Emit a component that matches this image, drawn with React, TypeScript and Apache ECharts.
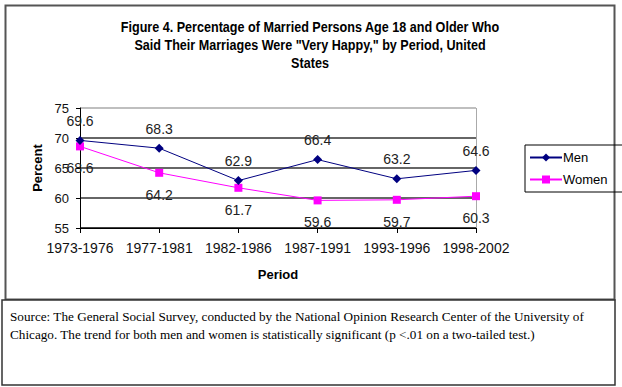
import React, { useEffect, useRef } from "react";
import * as echarts from "echarts";

const periods = ["1973-1976", "1977-1981", "1982-1986", "1987-1991", "1993-1996", "1998-2002"];
const menValues = [69.6, 68.3, 62.9, 66.4, 63.2, 64.6];
const womenValues = [68.6, 64.2, 61.7, 59.6, 59.7, 60.3];
const titleLines = [
  "Figure 4. Percentage of Married Persons Age 18 and Older Who",
  "Said Their Marriages Were \"Very Happy,\" by Period, United",
  "States",
];
const sourceLines = [
  "Source: The General Social Survey, conducted by the National Opinion Research Center of the University of",
  "Chicago. The trend for both men and women is statistically significant (p <.01 on a two-tailed test.)",
];

const SANS = "Arial, 'Liberation Sans', sans-serif";
const SERIF = "'Times New Roman', 'Liberation Serif', serif";

export default function App() {
  const ref = useRef<HTMLDivElement>(null);
  useEffect(() => {
    document.body.style.margin = "0";
    const chart = echarts.init(ref.current!, null, { renderer: "svg" });
    chart.setOption({
      animation: false,
      backgroundColor: "#fff",
      grid: { left: 80, right: 146, top: 108, bottom: 159, show: false },
      legend: {
        orient: "vertical",
        left: 525,
        top: 145,
        width: 85,
        padding: [6, 24, 6, 4],
        itemGap: 9,
        itemWidth: 32,
        itemHeight: 10,
        borderColor: "#000",
        borderWidth: 1,
        textStyle: { fontFamily: SANS, fontSize: 13, color: "#000", padding: [0, 0, 0, -4] },
        data: ["Men", "Women"],
      },
      xAxis: {
        type: "category",
        data: periods,
        boundaryGap: false,
        name: "Period",
        nameLocation: "middle",
        nameGap: 40,
        nameTextStyle: { fontFamily: SANS, fontWeight: "bold", fontSize: 13, color: "#000" },
        axisLine: { lineStyle: { color: "#000", width: 1 } },
        axisTick: { show: true, length: 5, interval: 0, lineStyle: { color: "#000" } },
        axisLabel: { fontFamily: SANS, fontSize: 14, color: "#111", margin: 13, interval: 0, hideOverlap: false },
        splitLine: { show: true, interval: 0, lineStyle: { color: ["transparent", "transparent", "transparent", "transparent", "transparent", "#aaa"] } },
      },
      yAxis: {
        type: "value",
        min: 55,
        max: 75,
        interval: 5,
        name: "Percent",
        nameLocation: "middle",
        nameGap: 28,
        nameRotate: 90,
        nameTextStyle: { fontFamily: SANS, fontWeight: "bold", fontSize: 13, color: "#000" },
        axisLine: { show: true, lineStyle: { color: "#000", width: 1 } },
        axisTick: { show: true, length: 4, lineStyle: { color: "#000" } },
        axisLabel: { fontFamily: SANS, fontSize: 13, color: "#111", margin: 11 },
        splitLine: { show: true, lineStyle: { color: ["#000", "#333", "#333", "#333", "#aaa"], width: 1.5 } },
      },
      series: [
        {
          name: "Men",
          type: "line",
          data: menValues,
          symbol: "diamond",
          symbolSize: 9,
          itemStyle: { color: "#000080" },
          lineStyle: { color: "#000080", width: 1 },
          label: { show: true, position: "top", distance: 8, fontFamily: SANS, fontSize: 14, color: "#222" },
          z: 3,
        },
        {
          name: "Women",
          type: "line",
          data: womenValues,
          symbol: "rect",
          symbolSize: 8,
          itemStyle: { color: "#ff00ff" },
          lineStyle: { color: "#ff00ff", width: 1 },
          label: { show: true, position: "bottom", distance: 11, fontFamily: SANS, fontSize: 14, color: "#222" },
          z: 2,
        },
      ],
      graphic: [
        {
          type: "rect",
          shape: { x: 5.5, y: 5.5, width: 609, height: 294 },
          style: { fill: "none", stroke: "#555", lineWidth: 2 },
        },
        {
          type: "group",
          x: 310,
          y: 18,
          scaleX: 0.9,
          children: [
            {
              type: "text",
              x: 0,
              y: 0,
              style: {
                text: titleLines.join("\n"),
                fontFamily: SANS,
                fontWeight: "bold",
                fontSize: 14,
                lineHeight: 18,
                align: "center",
                fill: "#000",
              },
            },
          ],
        },
        {
          type: "rect",
          shape: { x: 2, y: 300, width: 613, height: 85 },
          style: { fill: "#fff", stroke: "#333", lineWidth: 1.5 },
        },
        {
          type: "text",
          x: 10,
          y: 307,
          style: {
            text: sourceLines.join("\n"),
            fontFamily: SERIF,
            fontSize: 13.2,
            lineHeight: 18,
            fill: "#000",
          },
        },
      ],
    });
    return () => chart.dispose();
  }, []);
  return <div ref={ref} style={{ width: 622, height: 387, position: "fixed", left: 0, top: 0 }} />;
}
